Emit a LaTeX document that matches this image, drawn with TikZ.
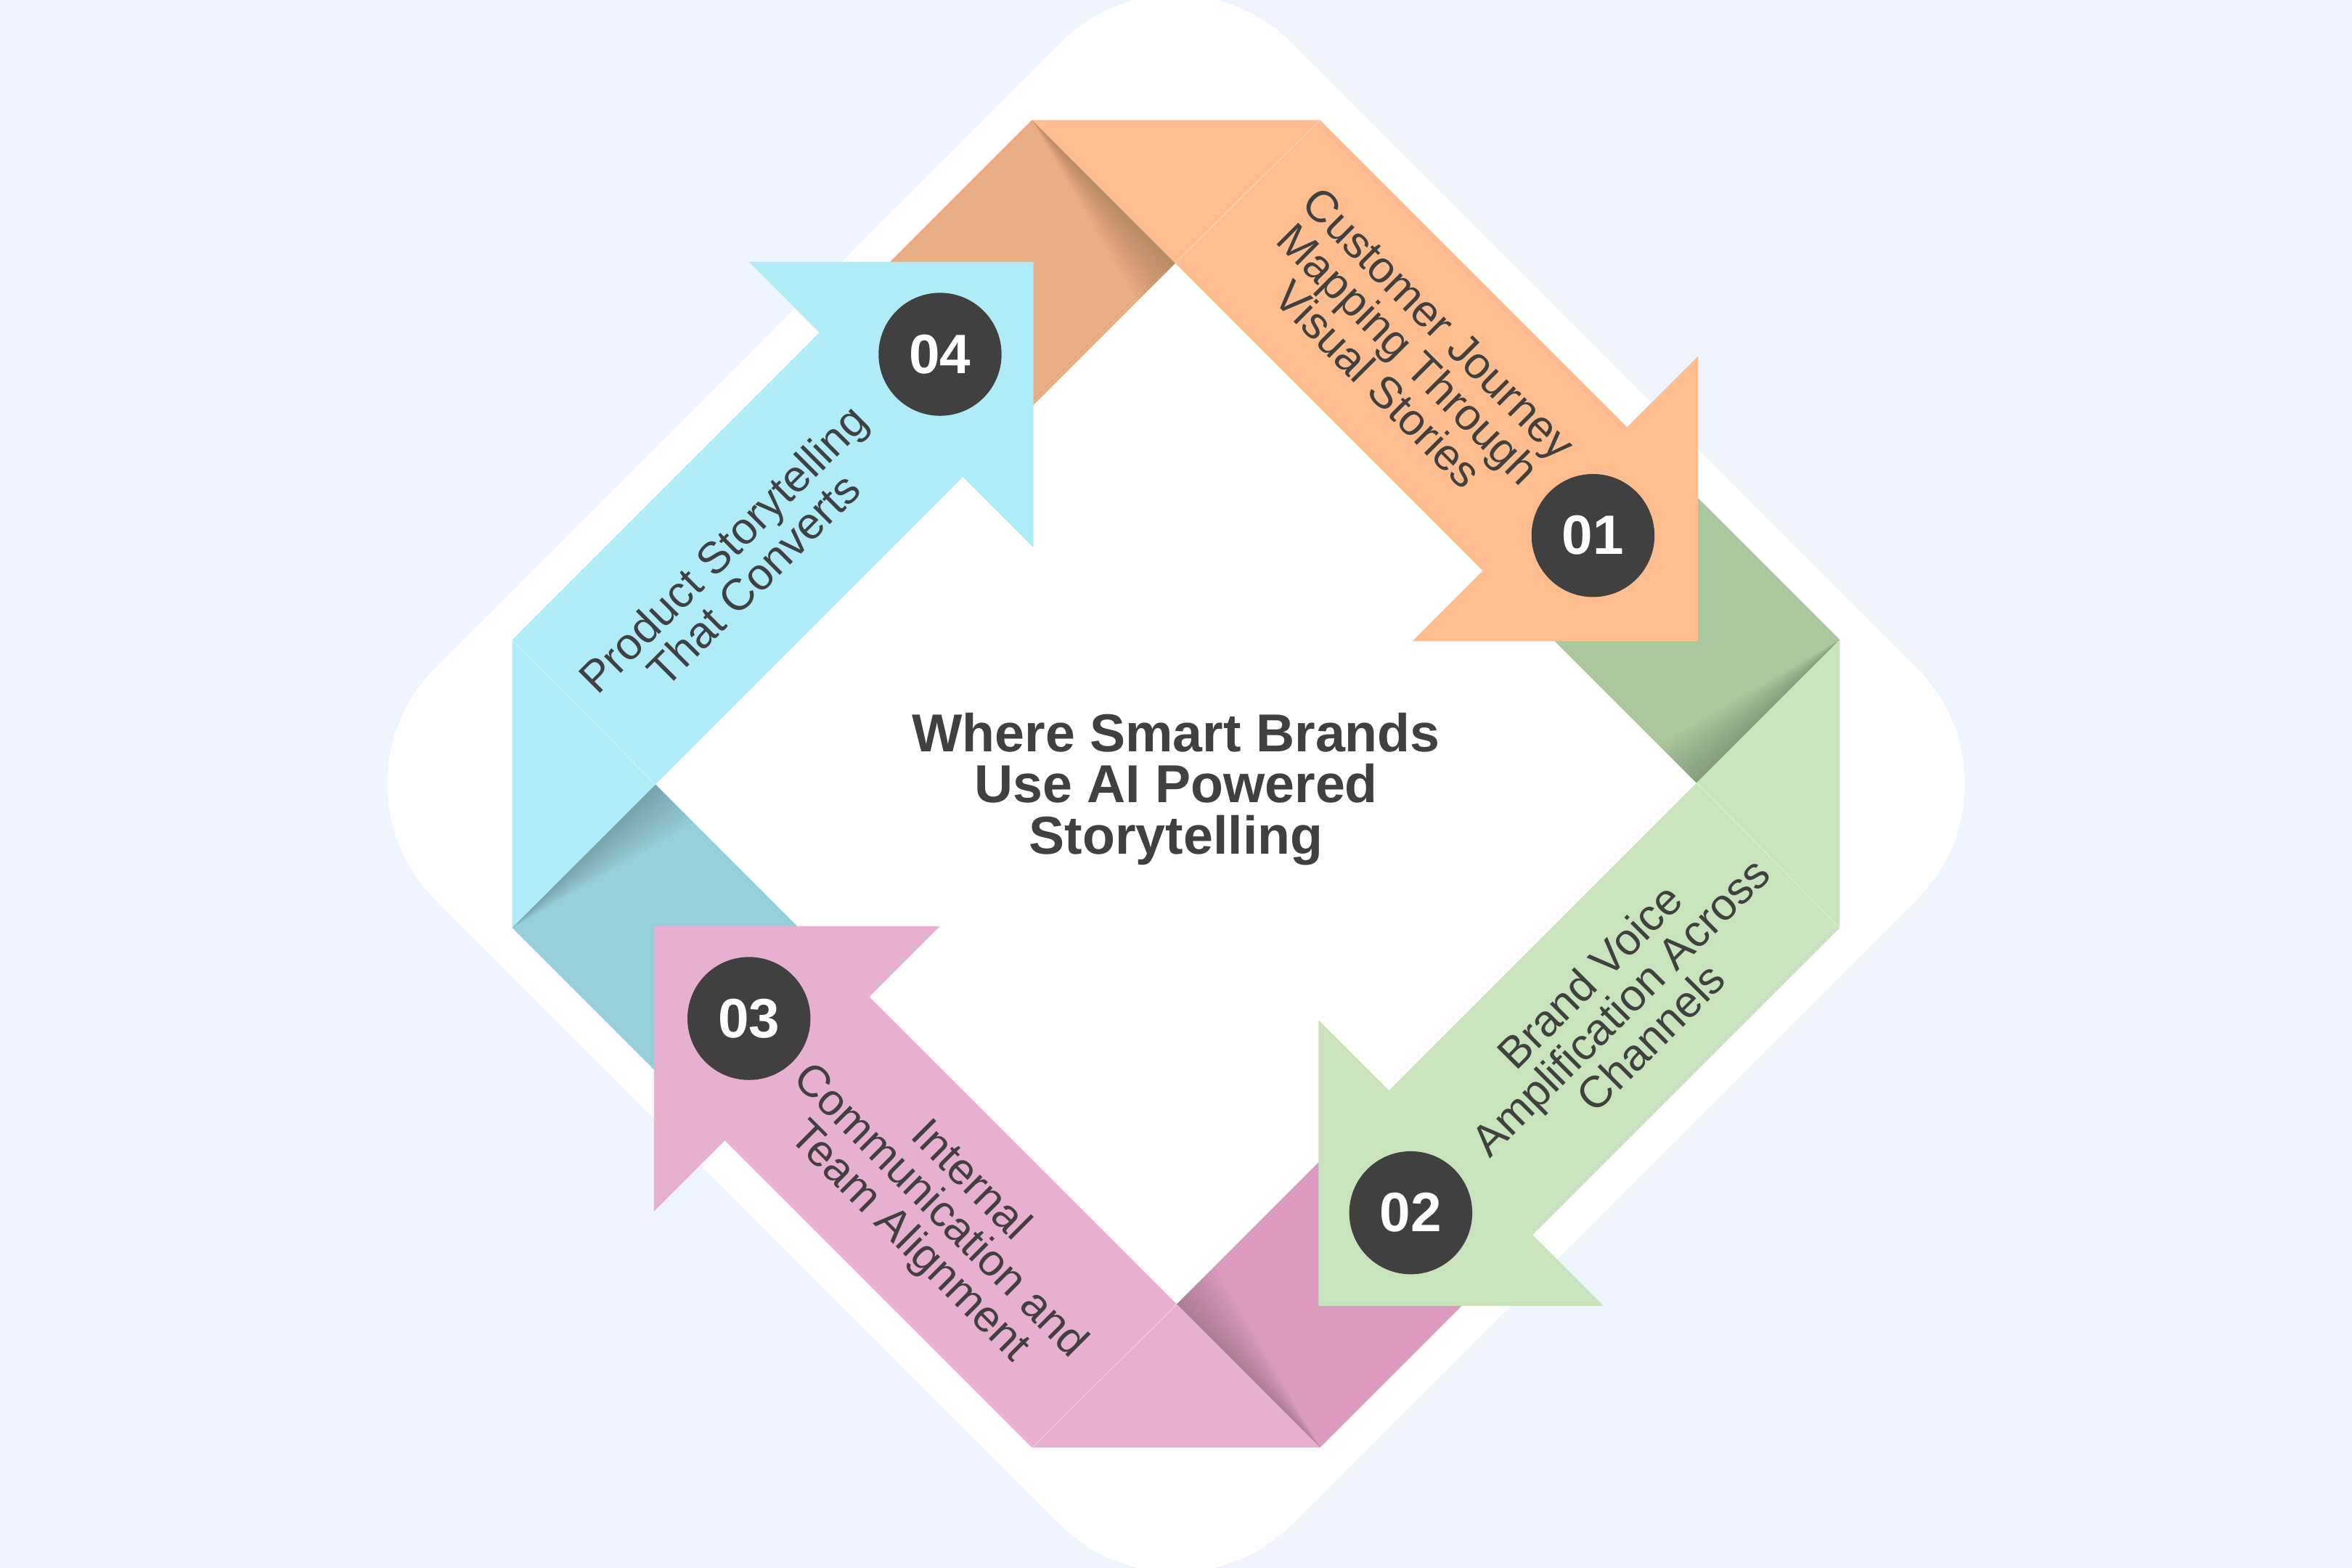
\documentclass[tikz,border=0pt]{standalone}
\usepackage{fontspec}
\setmainfont{Liberation Sans}
\definecolor{bg}{HTML}{EFF5FE}
\definecolor{orA}{HTML}{FDBD8E}
\definecolor{orF}{HTML}{E8AD84}
\definecolor{grA}{HTML}{C9E4BC}
\definecolor{grF}{HTML}{AAC79D}
\definecolor{piA}{HTML}{E8B0D0}
\definecolor{piF}{HTML}{DA9BBE}
\definecolor{blA}{HTML}{B0ECF7}
\definecolor{blF}{HTML}{96CED9}
\definecolor{ink}{HTML}{404040}
\newcommand\myfold[1]{%
  \fill[#1] (-96,-442.5) -- (-0.5,-347) -- (-96,-251.5) -- (-191.5,-347) -- cycle;
  \foreach \k in {1,...,10}{%
    \fill[black, opacity=0.018] (-96,-442.5) -- (-0.5,-347) -- ({-0.5-2.5*\k},{-347+2.5*\k}) -- cycle;
  }%
}
\newcommand\myarrow[1]{%
  \fill[#1] (-96,-442.5) -- (96,-442.5) -- (300.75,-237.75) -- (348,-285) -- (348,-95) -- (157.5,-95) -- (204.5,-142) -- cycle;
  \draw[white, opacity=0.3, line width=0.3pt] (-0.5,-347) -- (96,-442.5);
}
\tikzset{
  num/.style={circle, fill=ink, minimum size=41pt, inner sep=0pt, text=white, font=\fontsize{18.5}{18.5}\selectfont\bfseries},
  lbl/.style={align=center, text=ink, inner sep=0pt, font=\fontsize{14.8}{14.4}\selectfont},
  ttl/.style={align=center, text=ink, inner sep=0pt, font=\fontsize{17.8}{17}\selectfont\bfseries}
}
\begin{document}
\begin{tikzpicture}[x=0.5pt,y=-0.5pt]
\useasboundingbox (0,0) rectangle (1568,1045.33);
\clip (0,0) rectangle (1568,1045.33);
\fill[bg] (0,0) rectangle (1568,1045.33);
\fill[white, rounded corners=54.5pt] (784,-48.5) -- (1355,522.5) -- (784,1093.5) -- (213,522.5) -- cycle;
\begin{scope}[shift={(784,522.5)}]
  \begin{scope}[rotate=0]\myfold{orF}\end{scope}
  \begin{scope}[rotate=-90]\myfold{grF}\end{scope}
  \begin{scope}[rotate=-180]\myfold{piF}\end{scope}
  \begin{scope}[rotate=90]\myfold{blF}\end{scope}
  \begin{scope}[rotate=0]\myarrow{orA}\end{scope}
  \begin{scope}[rotate=-90]\myarrow{grA}\end{scope}
  \begin{scope}[rotate=-180]\myarrow{piA}\end{scope}
  \begin{scope}[rotate=90]\myarrow{blA}\end{scope}
\end{scope}
\node[ttl] (title) at (784,526) {Where Smart Brands\\Use AI Powered\\Storytelling};
\node[lbl, rotate=-45] (l1) at (939,236) {Customer Journey\\Mapping Through\\Visual Stories};
\node[lbl, rotate=45] (l2) at (1080,671) {Brand Voice\\Amplification Across\\Channels};
\node[lbl, rotate=-45] (l3) at (626,808) {Internal\\Communication and\\Team Alignment};
\node[lbl, rotate=45] (l4) at (492,376) {Product Storytelling\\That Converts};
\node[num] (n1) at (1062,357) {01};
\node[num] (n2) at (940.5,808.5) {02};
\node[num] (n3) at (499.3,679) {03};
\node[num] (n4) at (626.7,236.2) {04};
\end{tikzpicture}
\end{document}
